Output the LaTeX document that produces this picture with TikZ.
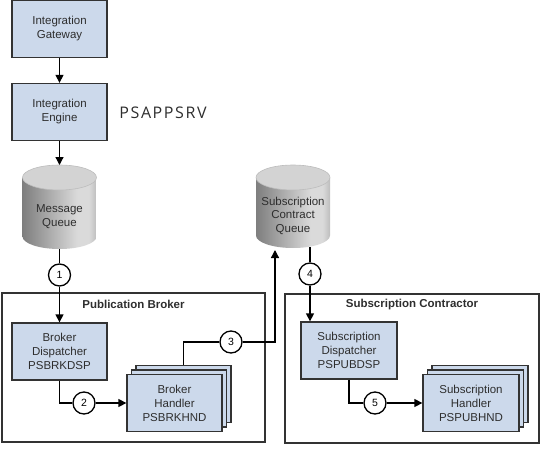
\documentclass[tikz,border=0pt]{standalone}
\usepackage{fontspec}
\setmainfont{Liberation Sans}
\newfontfamily\psfont[LetterSpace=10]{Open Sans}
\usetikzlibrary{arrows.meta,calc}
\definecolor{boxfill}{HTML}{CCD9EB}
\definecolor{boxline}{HTML}{333333}
\definecolor{txt}{HTML}{2E2E2E}
\definecolor{cyA}{HTML}{7E7E7E}
\definecolor{cyB}{HTML}{DADADA}
\definecolor{cyC}{HTML}{BDBDBD}
\definecolor{cyTop}{HTML}{D3D3D3}
\pgfdeclarehorizontalshading{cylside}{100bp}{color(0bp)=(cyA); color(25bp)=(cyA); color(62bp)=(cyB); color(70bp)=(cyB); color(75bp)=(cyC); color(100bp)=(cyC)}
\tikzset{
  procbox/.style={draw=boxline, line width=1.3pt, fill=boxfill, minimum width=95pt, minimum height=57pt, align=center, font=\fontsize{11.5}{14}\selectfont, text=txt, inner sep=0pt},
  groupbox/.style={draw=boxline, line width=1.2pt, inner sep=0pt},
  grouptitle/.style={font=\fontsize{11.5}{14}\selectfont\bfseries, text=txt},
  numcirc/.style={circle, draw=black, line width=1.3pt, fill=white, minimum size=22pt, inner sep=0pt, font=\fontsize{10.5}{12}\selectfont},
  conn/.style={draw=black, line width=1.3pt},
  arr/.style={conn, -{Triangle[length=8pt,width=8pt]}},
  cyltext/.style={align=center, font=\fontsize{11.5}{13.5}\selectfont, text=txt},
  cylside/.style={shading=cylside},
  cyltop/.style={fill=cyTop, draw=cyC, line width=0.6pt}
}
\begin{document}
\begin{tikzpicture}[x=1pt,y=-1pt]
\useasboundingbox (0,0) rectangle (552,461);
% group frames
\node[groupbox, minimum width=263pt, minimum height=149pt] (pb) at (133.5,367.5) {};
\node[groupbox, minimum width=254pt, minimum height=149pt] (sc) at (412,368.5) {};
\node[grouptitle] (pbt) at (133.5,304) {Publication Broker};
\node[grouptitle] (sct) at (412,305) {Subscription Contractor};
% cylinders
\shade[cylside] (22.5,177.5) -- (22.5,236.5) arc[start angle=180,end angle=0,x radius=37,y radius=12.5] -- (96.5,177.5) -- cycle;
\path[cyltop] (59.5,177.5) ellipse[x radius=37,y radius=12.5];
\shade[cylside] (256,177.5) -- (256,235.5) arc[start angle=180,end angle=0,x radius=37,y radius=12.5] -- (330,177.5) -- cycle;
\path[cyltop] (293,177.5) ellipse[x radius=37,y radius=12.5];
\node[cyltext] (mq) at (59.5,216.5) {Message\\Queue};
\node[cyltext] (sq) at (293,215.5) {Subscription\\Contract\\Queue};
\coordinate (mqin) at (59.5,165);
\coordinate (mqout) at (59.5,249);
\coordinate (sqin) at (275,250);
\coordinate (sqout) at (310,247);
% boxes
\node[procbox] (gw) at (59.5,29) {Integration\\Gateway};
\node[procbox] (ie) at (59.5,112) {Integration\\Engine};
\node[font=\psfont\fontsize{16}{18}\selectfont, text=txt, inner sep=0pt] (ps) at (163,113) {PSAPPSRV};
\node[procbox] (bd) at (59.5,351.5) {Broker\\Dispatcher\\PSBRKDSP};
\node[procbox] (bh3) at (183.5,394) {};
\node[procbox] (bh2) at (179,398.5) {};
\node[procbox] (bh) at (174.5,403) {Broker\\Handler\\PSBRKHND};
\node[procbox, minimum width=96pt] (sd) at (349,350.5) {Subscription\\Dispatcher\\PSPUBDSP};
\node[procbox, minimum width=96pt] (sh3) at (480,394) {};
\node[procbox, minimum width=96pt] (sh2) at (475.5,398.5) {};
\node[procbox, minimum width=96pt] (sh) at (471,403) {Subscription\\Handler\\PSPUBHND};
% numbered circles
\node[numcirc] (c1) at (59.5,275) {1};
\node[numcirc] (c2) at (84,403) {2};
\node[numcirc] (c3) at (231,342) {3};
\node[numcirc] (c4) at (310,274) {4};
\node[numcirc] (c5) at (375,403) {5};
% connectors
\draw[arr] (gw.south) -- (ie.north);
\draw[arr] (ie.south) -- (mqin);
\draw[conn] (mqout) -- (c1);
\draw[arr] (c1) -- (bd.north);
\draw[conn] (bd.south) |- (c2);
\draw[arr] (c2) -- (bh.west);
\draw[conn] (bh3.north) |- (c3);
\draw[arr] (c3) -| (sqin);
\draw[conn] (sqout) -- (c4);
\draw[arr] (c4) -- (c4 |- sd.north);
\draw[conn] (sd.south) |- (c5);
\draw[arr] (c5) -- (sh.west);
\end{tikzpicture}
\end{document}
